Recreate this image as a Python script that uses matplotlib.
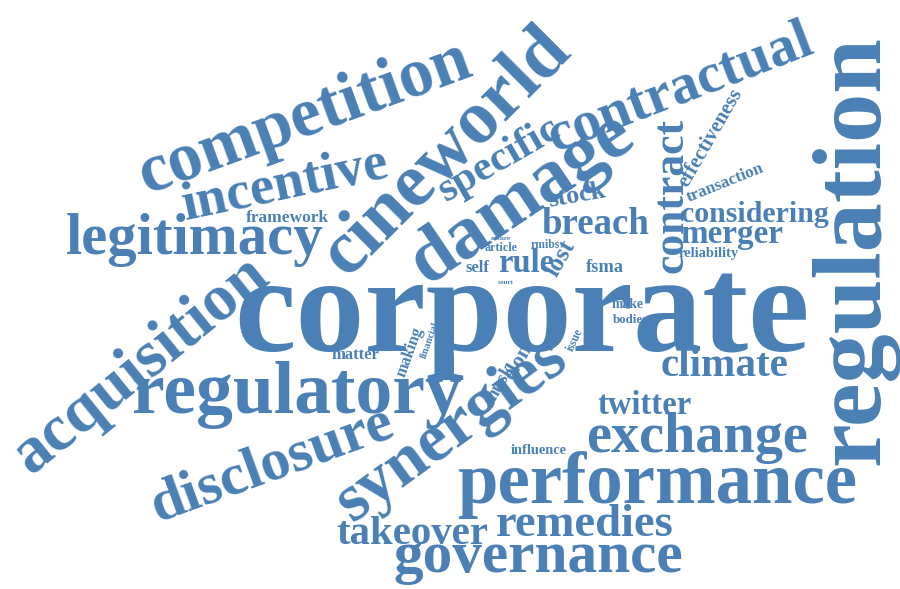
import matplotlib
matplotlib.use('Agg')
import matplotlib.pyplot as plt

# word cloud: words and their weights (relative frequency)
words = ['corporate', 'regulation', 'competition', 'cineworld', 'damage', 'contractual',
         'specific', 'incentive', 'legitimacy', 'acquisition', 'regulatory', 'disclosure',
         'synergies', 'performance', 'exchange', 'twitter', 'climate', 'governance',
         'takeover', 'remedies', 'contract', 'breach', 'stock', 'considering', 'merger',
         'reliability', 'transaction', 'effectiveness', 'framework', 'article', 'rmibs',
         'nature', 'self', 'rule', 'lost', 'fsma', 'court', 'matter', 'making', 'financial',
         'elon', 'musk', 'issue', 'make', 'bodies', 'influence', 'loss']

# layout: centre x, centre y (pixels from top-left), length along baseline, angle
pos_x = [522, 855, 305, 447, 522, 680, 500, 285, 195, 142, 297, 272, 452, 657, 697, 645,
         725, 538, 412, 585, 672, 595, 577, 755, 732, 709, 725, 710, 287, 501, 545, 501,
         477, 526, 560, 605, 506, 355, 410, 430, 518, 500, 575, 628, 630, 539, 596]
pos_y = [318, 250, 118, 152, 198, 88, 160, 185, 240, 365, 395, 465, 430, 485, 438, 405,
         367, 558, 535, 525, 195, 225, 196, 215, 235, 253, 183, 138, 218, 248, 245, 238,
         268, 264, 258, 268, 282, 355, 352, 340, 362, 385, 340, 305, 320, 450, 295]
length = [575, 430, 350, 320, 255, 280, 135, 210, 258, 310, 330, 255, 270, 400, 222, 94,
          128, 290, 152, 178, 155, 108, 58, 148, 103, 60, 82, 110, 83, 33, 29, 20,
          24, 56, 38, 38, 16, 48, 52, 38, 38, 44, 24, 32, 35, 56, 12]
angle = [0, 90, 20, 45, 34, 21, 30, 12, 0, 39, 0, 20, 36, 0, 0, 0,
         0, 0, 0, 0, 90, 0, 10, 0, 0, 0, 22, 60, 0, 0, 0, 0,
         0, 0, 60, 0, 0, 0, 70, 70, 60, 60, 65, 0, 0, 0, 90]

color = '#4a80b5'

fig = plt.figure(figsize=(9, 5.89), dpi=100)
ax = fig.add_axes([0, 0, 1, 1])
ax.set_xlim(0, 900)
ax.set_ylim(589, 0)
ax.axis('off')

renderer = fig.canvas.get_renderer()
for w, x, y, L, a in zip(words, pos_x, pos_y, length, angle):
    t = ax.text(x, y, w, fontsize=100, family='Liberation Serif', fontweight='bold',
                color=color, ha='center', va='center')
    wpx = t.get_window_extent(renderer).width
    t.set_fontsize(100 * L / wpx)
    t.set_rotation(a)
    t.set_rotation_mode('anchor')

fig.savefig('out.png', dpi=100)
